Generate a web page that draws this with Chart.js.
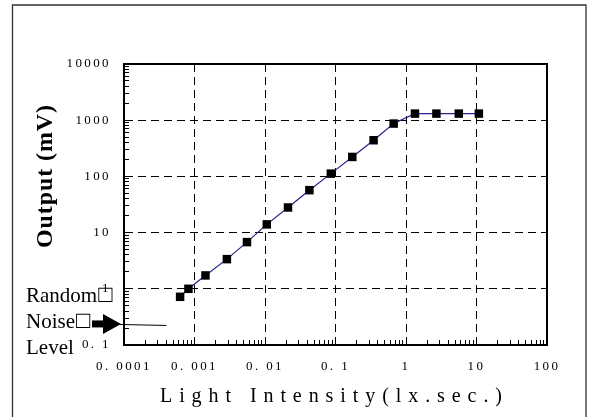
<!DOCTYPE html>
<html><head><meta charset="utf-8">
<script src="https://cdn.jsdelivr.net/npm/chart.js@4.4.1/dist/chart.umd.min.js"></script>
<style>html,body{margin:0;padding:0;background:#fff;}canvas{display:block;}</style>
</head><body>
<canvas id="c" width="589" height="417"></canvas>
<script>
const lightIntensity = [0.000625, 0.00082, 0.00143, 0.00288, 0.00555, 0.0106, 0.0212, 0.0426, 0.0859, 0.173, 0.347, 0.668, 1.34, 2.70, 5.61, 10.8];
const outputMV = [0.72, 1.0, 1.73, 3.37, 6.77, 14.0, 28.0, 56.9, 112, 222, 440, 871, 1310, 1310, 1310, 1310];
const xTickLabels = ['0. 0001', '0. 001', '0. 01', '0. 1', '1', '10', '100'];
const yTickLabels = ['0. 1', '1', '10', '100', '1000', '10000'];
const xMinExp = -4, xMaxExp = 2;
const yMinExp = -1, yMaxExp = 4;
const noiseLevel = 0.237;
const noiseLineEnd = 0.0004;
const xTitle = 'Light Intensity(lx.sec.)';
const yTitle = 'Output (mV)';
const noteLines = ['Random', 'Noise', 'Level'];
const noteBoxes = ['\u25A1', '\u25A1', ''];

const SERIF = '"Liberation Serif", "Times New Roman", serif';

function decadeTicks(minE, maxE) {
  const t = [];
  for (let e = minE; e <= maxE; e++) {
    t.push({value: Math.pow(10, e), major: true});
    if (e < maxE) for (let m = 2; m <= 9; m++) t.push({value: parseFloat((m * Math.pow(10, e)).toPrecision(3))});
  }
  return t;
}
function expOf(v) { return Math.round(Math.log10(v)); }
function isDecade(v) { return Math.abs(Math.log10(v) - expOf(v)) < 1e-6; }
function gridColor(minE, maxE) {
  return (c) => {
    const v = c.tick && c.tick.value;
    if (!v) return 'rgba(0,0,0,0)';
    const e = expOf(v);
    return (isDecade(v) && e > minE && e < maxE) ? '#000' : 'rgba(0,0,0,0)';
  };
}

const points = lightIntensity.map((x, i) => ({x: x, y: outputMV[i]}));

const decorPlugin = {
  id: 'decor',
  beforeDraw(chart) { chart.ctx.letterSpacing = '2.4px'; },
  afterDraw(chart) {
    const ctx = chart.ctx;
    const a = chart.chartArea;
    ctx.save();
    ctx.letterSpacing = '0px';
    // plot frame top & right
    ctx.strokeStyle = '#000'; ctx.lineWidth = 2;
    ctx.beginPath(); ctx.moveTo(a.left - 1, a.top); ctx.lineTo(a.right, a.top); ctx.lineTo(a.right, a.bottom + 1); ctx.stroke();
    // outer frame
    ctx.strokeStyle = '#333'; ctx.lineWidth = 1.3;
    ctx.beginPath(); ctx.moveTo(12.5, 417); ctx.lineTo(12.5, 5); ctx.lineTo(586, 5); ctx.lineTo(586, 417); ctx.stroke();
    ctx.fillStyle = '#000';
    // x title
    ctx.font = '20px ' + SERIF;
    let w = ctx.measureText(xTitle).width;
    let s = (342 - w) / (xTitle.length - 1);
    ctx.letterSpacing = s + 'px';
    ctx.textAlign = 'left'; ctx.textBaseline = 'alphabetic';
    ctx.fillText(xTitle, 160, 402);
    // y title
    ctx.letterSpacing = '0px';
    ctx.font = 'bold 24px ' + SERIF;
    w = ctx.measureText(yTitle).width;
    s = (143 - w) / (yTitle.length - 1);
    ctx.letterSpacing = s + 'px';
    ctx.save();
    ctx.translate(52, 248); ctx.rotate(-Math.PI / 2);
    ctx.fillText(yTitle, 0, 0);
    ctx.restore();
    // notes
    ctx.letterSpacing = '0px';
    noteLines.forEach((t, i) => {
      const by = 302 + i * 26;
      ctx.font = '21px ' + SERIF;
      ctx.fillText(t, 26, by);
      const tw = ctx.measureText(t).width;
      if (noteBoxes[i]) {
        ctx.font = '24px ' + SERIF;
        ctx.fillText(noteBoxes[i], 26 + tw + 1, by);
      }
    });
    // noise arrow
    const y = chart.scales.y.getPixelForValue(noiseLevel);
    const xEnd = chart.scales.x.getPixelForValue(noiseLineEnd);
    ctx.fillRect(92, y - 3.5, 12, 7);
    ctx.beginPath(); ctx.moveTo(103, y - 10); ctx.lineTo(121, y); ctx.lineTo(103, y + 10); ctx.closePath(); ctx.fill();
    ctx.lineWidth = 1; ctx.strokeStyle = '#000';
    ctx.beginPath(); ctx.moveTo(118, y + 0.5); ctx.lineTo(xEnd, y + 1.5); ctx.stroke();
    ctx.restore();
  }
};

new Chart(document.getElementById('c'), {
  type: 'line',
  data: {
    datasets: [{
      data: points,
      borderColor: '#24248c',
      borderWidth: 1.2,
      tension: 0,
      pointStyle: 'rect',
      pointRadius: 6,
      pointHoverRadius: 6,
      pointBackgroundColor: '#000',
      pointBorderWidth: 0
    }]
  },
  options: {
    responsive: false,
    animation: false,
    devicePixelRatio: 1,
    layout: {padding: {left: 0, top: 64, right: 42, bottom: 0}},
    plugins: {legend: {display: false}, tooltip: {enabled: false}},
    scales: {
      x: {
        type: 'logarithmic',
        min: Math.pow(10, xMinExp), max: Math.pow(10, xMaxExp),
        afterBuildTicks: (sc) => { sc.ticks = decadeTicks(xMinExp, xMaxExp); },
        afterFit: (sc) => { sc.height = 72; },
        grid: {color: gridColor(xMinExp, xMaxExp), lineWidth: 1, drawTicks: true, tickLength: -5, tickColor: '#000', tickWidth: 1, borderDash: [8, 5]},
        border: {display: true, color: '#000', width: 2, dash: [8, 5]},
        ticks: {
          autoSkip: false, maxRotation: 0, padding: 19, color: '#000',
          font: {family: SERIF, size: 13},
          callback: (v) => isDecade(v) ? xTickLabels[expOf(v) - xMinExp] : ''
        }
      },
      y: {
        type: 'logarithmic',
        min: Math.pow(10, yMinExp), max: Math.pow(10, yMaxExp),
        afterBuildTicks: (sc) => { sc.ticks = decadeTicks(yMinExp, yMaxExp); },
        afterFit: (sc) => { sc.width = 124; },
        grid: {color: gridColor(yMinExp, yMaxExp), lineWidth: 1, drawTicks: true, tickLength: -5, tickColor: '#000', tickWidth: 1, borderDash: [8, 5]},
        border: {display: true, color: '#000', width: 2, dash: [8, 5]},
        ticks: {
          autoSkip: false, padding: 18, color: '#000',
          font: {family: SERIF, size: 13},
          callback: (v) => isDecade(v) ? yTickLabels[expOf(v) - yMinExp] : ''
        }
      }
    }
  },
  plugins: [decorPlugin]
});
</script>
</body></html>
